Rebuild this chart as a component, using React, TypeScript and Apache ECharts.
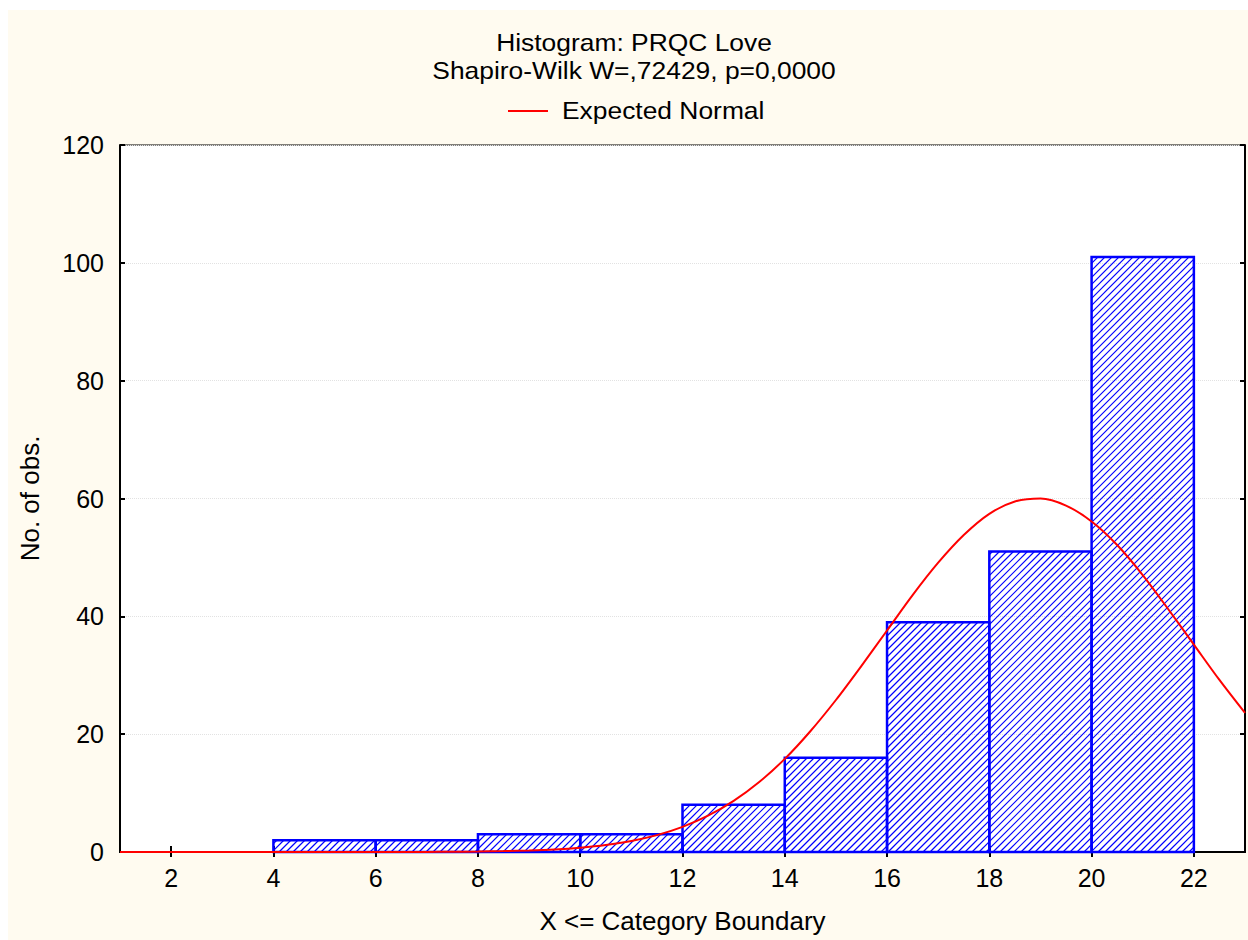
import React, { useEffect, useRef } from "react";
import * as echarts from "echarts";

// ---- data ----
const binStarts = [0, 2, 4, 6, 8, 10, 12, 14, 16, 18, 20];
const binEnds = [2, 4, 6, 8, 10, 12, 14, 16, 18, 20, 22];
const counts = [0, 0, 2, 2, 3, 3, 8, 16, 39, 51, 101];

const xTicks = [2, 4, 6, 8, 10, 12, 14, 16, 18, 20, 22];

// Expected normal curve
const curveX = [
  1, 1.5, 2, 2.5, 3, 3.5, 4, 4.5, 5, 5.5, 6, 6.5, 7, 7.5, 8, 8.5, 9, 9.5, 10,
  10.5, 11, 11.5, 12, 12.5, 13, 13.5, 14, 14.5, 15, 15.5, 16, 16.5, 17, 17.5,
  18, 18.5, 19, 19.5, 20, 20.5, 21, 21.5, 22, 22.5, 23,
];
const curveY = [
  0, 0, 0, 0, 0, 0, 0, 0, 0, 0, 0, 0.01, 0.02, 0.04, 0.08, 0.15, 0.26, 0.44,
  0.74, 1.19, 1.87, 2.86, 4.26, 6.16, 8.67, 11.87, 15.8, 20.5, 25.8, 31.6, 37.6,
  43.6, 49.1, 53.8, 57.4, 59.5, 60.0, 58.8, 56.1, 52.1, 47.0, 41.2, 35.2, 29.2,
  23.6,
];

const titleText = "Histogram: PRQC Love";
const subtitleText = "Shapiro-Wilk W=,72429, p=0,0000";
const legendText = "Expected Normal";
const xName = "X <= Category Boundary";
const yName = "No. of obs.";

const FONT = "Arial, 'Liberation Sans', sans-serif";
const BLUE = "#0000FF";
const HATCH = 7;
const TXT = 26;
const TICK = 25;
const HEAD = 24;

export default function App() {
  const ref = useRef<HTMLDivElement>(null);

  useEffect(() => {
    if (!ref.current) return;
    const chart = echarts.init(ref.current, undefined, { renderer: "svg" });

    const barData = binStarts.map((s, i) => [s, binEnds[i], counts[i]]);
    const lineData = curveX.map((x, i) => [x, curveY[i]]);

    const renderItem = (params: any, api: any) => {
      const x0 = api.value(0);
      const x1 = api.value(1);
      const v = api.value(2);
      if (!(v > 0)) return null;
      const p0 = api.coord([x0, v]);
      const p1 = api.coord([x1, 0]);
      const left = p0[0];
      const right = p1[0];
      const top = p0[1];
      const bottom = p1[1];
      const children: any[] = [];
      let c = Math.ceil((left + top) / HATCH) * HATCH;
      for (; c <= right + bottom; c += HATCH) {
        const xa = Math.max(left, c - bottom);
        const xb = Math.min(right, c - top);
        if (xb - xa > 0.5) {
          children.push({
            type: "line",
            shape: { x1: xa, y1: c - xa, x2: xb, y2: c - xb },
            style: { stroke: BLUE, lineWidth: 1.2 },
          });
        }
      }
      children.push({
        type: "rect",
        shape: { x: left, y: top, width: right - left, height: bottom - top },
        style: { fill: "none", stroke: BLUE, lineWidth: 2.5 },
      });
      return { type: "group", children };
    };

    const axisLineStyle = { color: "#000", width: 2 };

    const textStyleOf = (text: string, align: string) => ({
      text,
      fontSize: HEAD,
      fontFamily: FONT,
      fill: "#000",
      align,
      verticalAlign: "middle",
      textAlign: align,
      textVerticalAlign: "middle",
    });

    const option: any = {
      animation: false,
      backgroundColor: "#FFFBF0",
      textStyle: { fontFamily: FONT },
      grid: {
        left: 112,
        top: 135,
        right: 3,
        bottom: 88,
        show: true,
        backgroundColor: "#FFFFFF",
        borderColor: "#000",
        borderWidth: 1,
      },
      graphic: [
        {
          type: "text",
          x: 626,
          y: 32.5,
          scaleX: 1.1,
          style: textStyleOf(titleText, "center"),
        },
        {
          type: "text",
          x: 626,
          y: 60,
          scaleX: 1.1,
          style: textStyleOf(subtitleText, "center"),
        },
        {
          type: "line",
          shape: { x1: 500, y1: 101, x2: 540, y2: 101 },
          style: { stroke: "#FF0000", lineWidth: 2 },
        },
        {
          type: "text",
          x: 554,
          y: 100.7,
          scaleX: 1.1,
          style: textStyleOf(legendText, "left"),
        },
      ],
      xAxis: [
        {
          type: "value",
          min: 1,
          max: 23,
          position: "bottom",
          axisLine: { show: true, lineStyle: axisLineStyle },
          axisTick: {
            show: true,
            inside: true,
            length: 6,
            lineStyle: axisLineStyle,
            customValues: xTicks,
          },
          axisLabel: {
            show: true,
            customValues: xTicks,
            fontSize: TICK,
            fontFamily: FONT,
            color: "#000",
            margin: 13,
          },
          splitLine: { show: false },
          name: xName,
          nameLocation: "middle",
          nameGap: 56,
          nameTextStyle: { fontSize: TXT, fontFamily: FONT, color: "#000" },
        },
        {
          type: "value",
          min: 1,
          max: 23,
          position: "top",
          axisLine: { show: true, lineStyle: axisLineStyle },
          axisTick: {
            show: true,
            inside: true,
            length: 5,
            lineStyle: axisLineStyle,
            customValues: xTicks,
          },
          axisLabel: { show: false },
          splitLine: { show: false },
        },
      ],
      yAxis: [
        {
          type: "value",
          min: 0,
          max: 120,
          interval: 20,
          position: "left",
          axisLine: { show: true, lineStyle: axisLineStyle },
          axisTick: { show: true, inside: true, length: 5, lineStyle: axisLineStyle },
          axisLabel: {
            fontSize: TICK,
            fontFamily: FONT,
            color: "#000",
            margin: 16,
          },
          splitLine: {
            show: true,
            lineStyle: { type: "dotted", color: "#E2E2E2", width: 1 },
          },
          name: yName,
          nameLocation: "middle",
          nameGap: 77,
          nameRotate: 90,
          nameTextStyle: { fontSize: TXT, fontFamily: FONT, color: "#000" },
        },
        {
          type: "value",
          min: 0,
          max: 120,
          interval: 20,
          position: "right",
          axisLine: { show: true, lineStyle: axisLineStyle },
          axisTick: { show: true, inside: true, length: 5, lineStyle: axisLineStyle },
          axisLabel: { show: false },
          splitLine: { show: false },
        },
      ],
      series: [
        {
          type: "custom",
          name: "Histogram",
          xAxisIndex: 0,
          yAxisIndex: 0,
          renderItem,
          encode: { x: [0, 1], y: 2 },
          data: barData,
          z: 2,
        },
        {
          type: "line",
          name: legendText,
          xAxisIndex: 0,
          yAxisIndex: 0,
          data: lineData,
          smooth: 0.3,
          showSymbol: false,
          symbol: "none",
          lineStyle: { color: "#FF0000", width: 2 },
          z: 3,
        },
      ],
    };

    chart.setOption(option);
    return () => chart.dispose();
  }, []);

  return (
    <div
      ref={ref}
      style={{
        position: "absolute",
        left: 8,
        top: 10,
        width: 1240,
        height: 930,
      }}
    />
  );
}
